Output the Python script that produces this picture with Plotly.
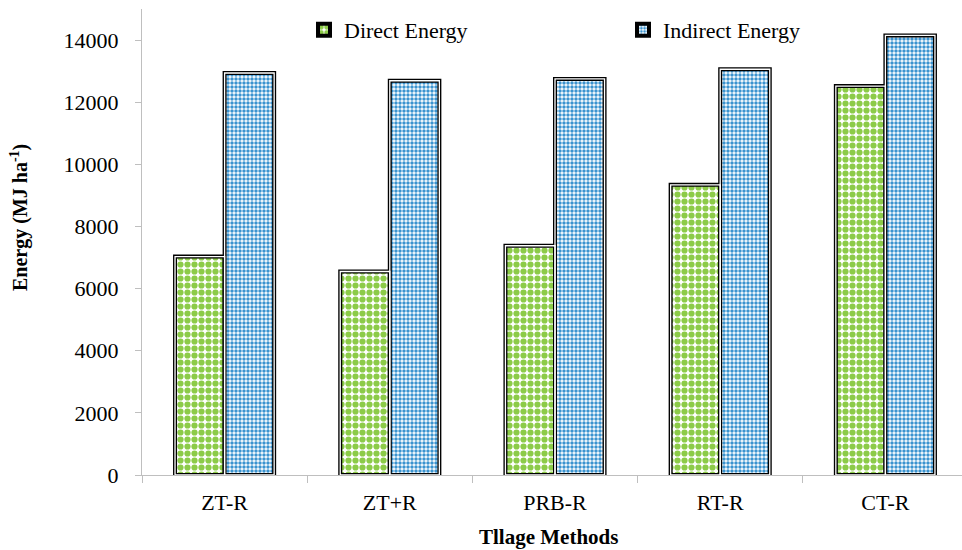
import plotly.graph_objects as go

categories = ["ZT-R", "ZT+R", "PRB-R", "RT-R", "CT-R"]
direct_energy = [7030, 6550, 7380, 9340, 12520]
indirect_energy = [12940, 12690, 12750, 13060, 14150]
y_ticks = [0, 2000, 4000, 6000, 8000, 10000, 12000, 14000]
y_tick_labels = ["0", "2000", "4000", "6000", "8000", "10000", "12000", "14000"]

FONT = "Liberation Serif"
GREEN = "#8ccb48"
BLUE = "#3a93cf"

# plot-area geometry in pixels
L, R, T, B = 142, 962, 9, 475
W, H = R - L, B - T
CAT_PX = 165.2

def px_x(p):
    return (p - L) / W

def px_y(p):
    return (B - p) / H

fig = go.Figure()

bar_w = 0.3
for name, vals, col, off, lg in [
    ("Direct Energy", direct_energy, GREEN, -bar_w, "legend"),
    ("Indirect Energy", indirect_energy, BLUE, 0.0, "legend2"),
]:
    if col == GREEN:
        pat = dict(shape=".", size=7, solidity=0.62, fgcolor=col, bgcolor="white", fillmode="replace")
    else:
        pat = dict(shape=".", size=4, solidity=0.6, fgcolor=col, bgcolor="white", fillmode="replace")
    fig.add_trace(go.Bar(
        x=categories, y=vals, name=name, width=bar_w, offset=off,
        marker=dict(color=col, pattern=pat, line=dict(color="black", width=4)),
        legend=lg,
    ))

# white middle stripe for the double border
for vals, off in [(direct_energy, -bar_w), (indirect_energy, 0.0)]:
    fig.add_trace(go.Bar(
        x=categories, y=vals, width=bar_w, offset=off, showlegend=False,
        hoverinfo="skip",
        marker=dict(color="rgba(0,0,0,0)", line=dict(color="white", width=1.3)),
    ))

fig.update_layout(
    width=962, height=550,
    margin=dict(l=L, r=962 - R, t=T, b=550 - B, pad=0),
    barmode="overlay",
    plot_bgcolor="white", paper_bgcolor="white",
    font=dict(family=FONT, size=22, color="black"),
    legend=dict(orientation="h", x=px_x(304), y=px_y(30), xanchor="left", yanchor="middle",
                font=dict(family=FONT, size=22, color="black"), bgcolor="rgba(0,0,0,0)"),
    legend2=dict(orientation="h", x=px_x(623), y=px_y(30), xanchor="left", yanchor="middle",
                 font=dict(family=FONT, size=22, color="black"), bgcolor="rgba(0,0,0,0)"),
    xaxis=dict(
        type="category", range=[-0.5, -0.5 + W / CAT_PX],
        showline=True, linecolor="#bfbfbf", linewidth=1,
        ticks="outside", tickson="boundaries", ticklen=7, tickcolor="#bfbfbf",
        showgrid=False, zeroline=False,
        tickfont=dict(family=FONT, size=22, color="black"),
        ticklabelstandoff=8,
    ),
    yaxis=dict(
        range=[0, 15000], tickvals=y_ticks, ticktext=y_tick_labels,
        showline=True, linecolor="#bfbfbf", linewidth=1,
        ticks="outside", ticklen=6, tickcolor="#bfbfbf",
        showgrid=False, zeroline=False,
        tickfont=dict(family=FONT, size=22, color="black"),
        ticklabelstandoff=12,
    ),
    annotations=[
        dict(text="<b>Energy (MJ ha<sup>-1</sup>)</b>", xref="paper", yref="paper",
             x=px_x(20), y=px_y(218), textangle=-90, showarrow=False,
             xanchor="center", yanchor="middle",
             font=dict(family=FONT, size=20, color="black")),
        dict(text="<b>Tllage Methods</b>", xref="paper", yref="paper",
             x=px_x(548), y=px_y(537), showarrow=False,
             xanchor="center", yanchor="middle",
             font=dict(family=FONT, size=21, color="black")),
    ],
)

fig.write_html("out.html")
